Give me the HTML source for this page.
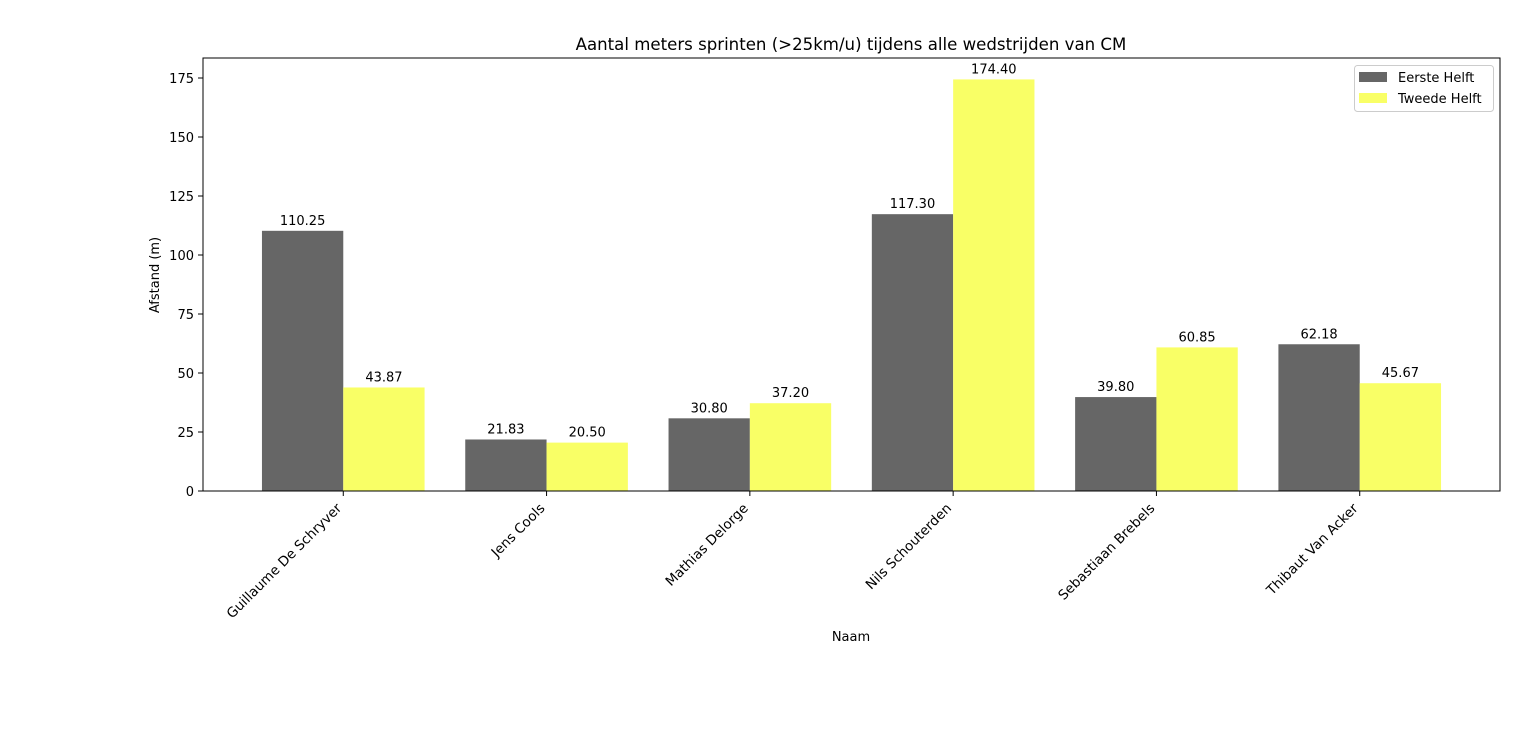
<!DOCTYPE html>
<html><head><meta charset="utf-8"><style>
body{margin:0;background:#fff;overflow:hidden;}
svg text{font-family:"DejaVu Sans","Liberation Sans",sans-serif;fill:#000;}
</style></head><body>
<svg id="chart" style="position:absolute;left:0;top:0" width="1536" height="754"></svg>
<script>
const categories=["Guillaume De Schryver","Jens Cools","Mathias Delorge","Nils Schouterden","Sebastiaan Brebels","Thibaut Van Acker"];
const eersteHelft=[110.25,21.83,30.80,117.30,39.80,62.18];
const tweedeHelft=[43.87,20.50,37.20,174.40,60.85,45.67];
const yTicks=[0,25,50,75,100,125,150,175];
const L=203,R=1500,T=58,B=491;
const xmin=-0.69,xmax=5.69;
const x=v=>L+(v-xmin)/(xmax-xmin)*(R-L);
const y=v=>B-v*(413/175);
const svg=document.getElementById('chart');
const NS='http://www.w3.org/2000/svg';
function mk(tag,attrs,parent){const e=document.createElementNS(NS,tag);for(const k in attrs)e.setAttribute(k,attrs[k]);(parent||svg).appendChild(e);return e;}
const bw=x(0.4)-x(0);
categories.forEach((c,i)=>{
  [[eersteHelft,-0.2,'#666666','bar-eerste-helft'],[tweedeHelft,0.2,'#f9ff66','bar-tweede-helft']].forEach(([arr,off,col,nm])=>{
    const v=arr[i];
    const r=mk('rect',{x:x(i+off)-bw/2,y:y(v),width:bw,height:B-y(v),fill:col});
    
    
    const t=mk('text',{x:x(i+off),y:y(v)-6,'text-anchor':'middle','font-size':13});
    t.textContent=v.toFixed(2);
    
    
  });
  const tx=x(i);
  mk('line',{x1:tx,x2:tx,y1:B,y2:B+5,stroke:'#000'});
  const ax=tx-1, ay=B+18;
  const lb=mk('text',{x:ax,y:ay,'text-anchor':'end','font-size':13.5,transform:`rotate(-45 ${ax} ${ay})`});
  lb.textContent=c;
  
  
});
yTicks.forEach(v=>{
  mk('line',{x1:L-5,x2:L,y1:y(v),y2:y(v),stroke:'#000'});
  const t=mk('text',{x:L-9,y:y(v)+5,'text-anchor':'end','font-size':13});
  t.textContent=v;
  
  
});
const fr=mk('rect',{x:L,y:T,width:R-L,height:B-T,fill:'none',stroke:'#000','stroke-width':1});


</script>
<svg style="position:absolute;left:0;top:0" width="1536" height="754">
<text x="851" y="50" text-anchor="middle" font-size="16.6">Aantal meters sprinten (&gt;25km/u) tijdens alle wedstrijden van CM</text>
<text x="0" y="0" text-anchor="middle" font-size="13" transform="translate(159 275) rotate(-90)">Afstand (m)</text>
<text x="851" y="641" text-anchor="middle" font-size="13">Naam</text>
<g>
<rect x="1354.5" y="65.5" width="139" height="46" rx="3" fill="#fff" stroke="#ccc"/>
<rect x="1359" y="72" width="28" height="10" fill="#666666"/>
<text x="1398" y="82" font-size="13">Eerste Helft</text>
<rect x="1359" y="93" width="28" height="10" fill="#f9ff66"/>
<text x="1398" y="103" font-size="13">Tweede Helft</text>
</g>
</svg>
</body></html>
